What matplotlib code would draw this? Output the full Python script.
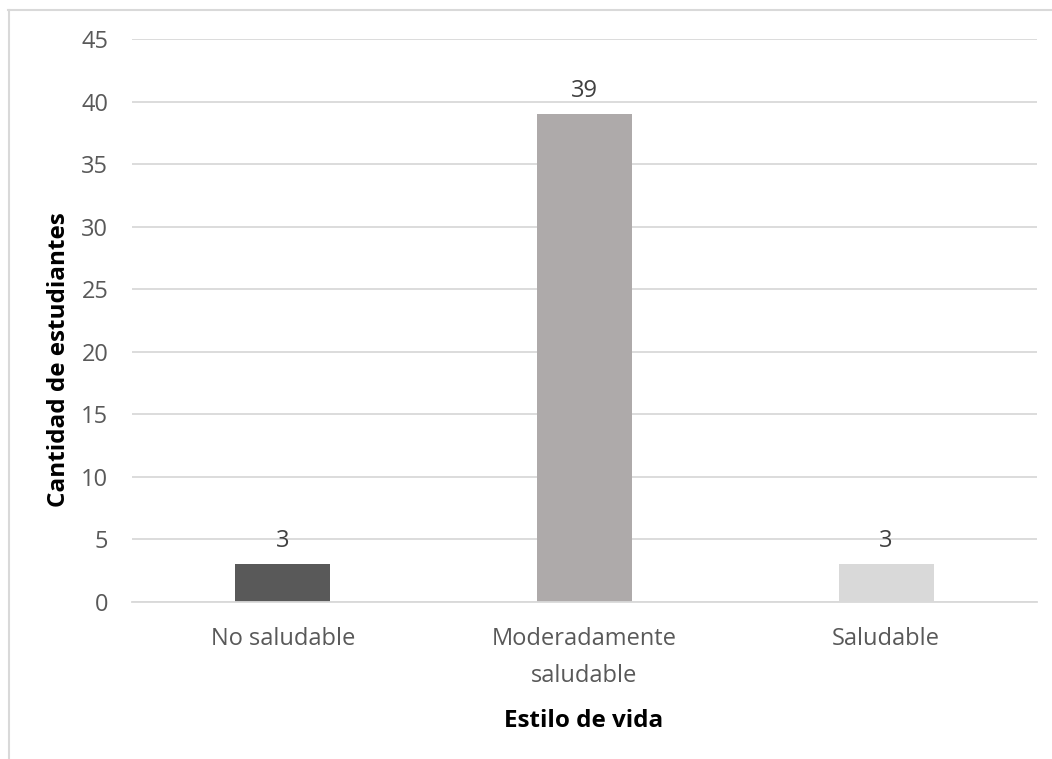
import matplotlib.pyplot as plt
from matplotlib.lines import Line2D

plt.rcParams['font.family'] = ['Open Sans', 'DejaVu Sans']

categories = ["No saludable", "Moderadamente\nsaludable", "Saludable"]
students = [3, 39, 3]
bar_colors = ["#595959", "#AEAAAA", "#D9D9D9"]
y_ticks = [0, 5, 10, 15, 20, 25, 30, 35, 40, 45]

W, H = 1052, 759
fig = plt.figure(figsize=(W / 100, H / 100), dpi=100)
ax = fig.add_axes([132 / W, 157 / H, 905 / W, 563 / H])

x = range(len(categories))
bars = ax.bar(x, students, width=0.315, color=bar_colors, zorder=3)
for rect, v in zip(bars, students):
    ax.annotate(str(v), (rect.get_x() + rect.get_width() / 2, v),
                xytext=(0, 8), textcoords="offset points",
                ha="center", va="bottom", fontsize=17, color="#404040")

ax.set_xlim(-0.5, len(categories) - 0.5)
ax.set_ylim(0, 45)
ax.set_yticks(y_ticks)
ax.set_xticks(list(x))
ax.set_xticklabels(categories)
ax.tick_params(axis="both", length=0, labelsize=17, colors="#595959")
ax.tick_params(axis="x", pad=18)
ax.tick_params(axis="y", pad=17)
for lbl in ax.get_xticklabels():
    lbl.set_linespacing(1.75)
ax.grid(axis="y", color="#D9D9D9", linewidth=1.3, zorder=0)

for s in ["top", "right", "left"]:
    ax.spines[s].set_visible(False)
ax.spines["bottom"].set_color("#D9D9D9")
ax.spines["bottom"].set_linewidth(1.3)
ax.spines["bottom"].set_zorder(4)

# axis titles placed in figure pixels
fig.text(59 / W, 1 - 360 / H, "Cantidad de estudiantes", rotation=90,
         ha="center", va="center", fontsize=17.5, fontweight="bold", color="black")
fig.text(584 / W, 1 - 721 / H, "Estilo de vida",
         ha="center", va="center", fontsize=17.5, fontweight="bold", color="black")

# chart frame border (top and left edges)
fig.add_artist(Line2D([8 / W, 1], [1 - 9.5 / H, 1 - 9.5 / H],
                      transform=fig.transFigure, color="#D9D9D9", linewidth=1.5))
fig.add_artist(Line2D([8.5 / W, 8.5 / W], [0, 1 - 9.5 / H],
                      transform=fig.transFigure, color="#D9D9D9", linewidth=1.5))

fig.savefig("out.png", dpi=100, facecolor="white")
